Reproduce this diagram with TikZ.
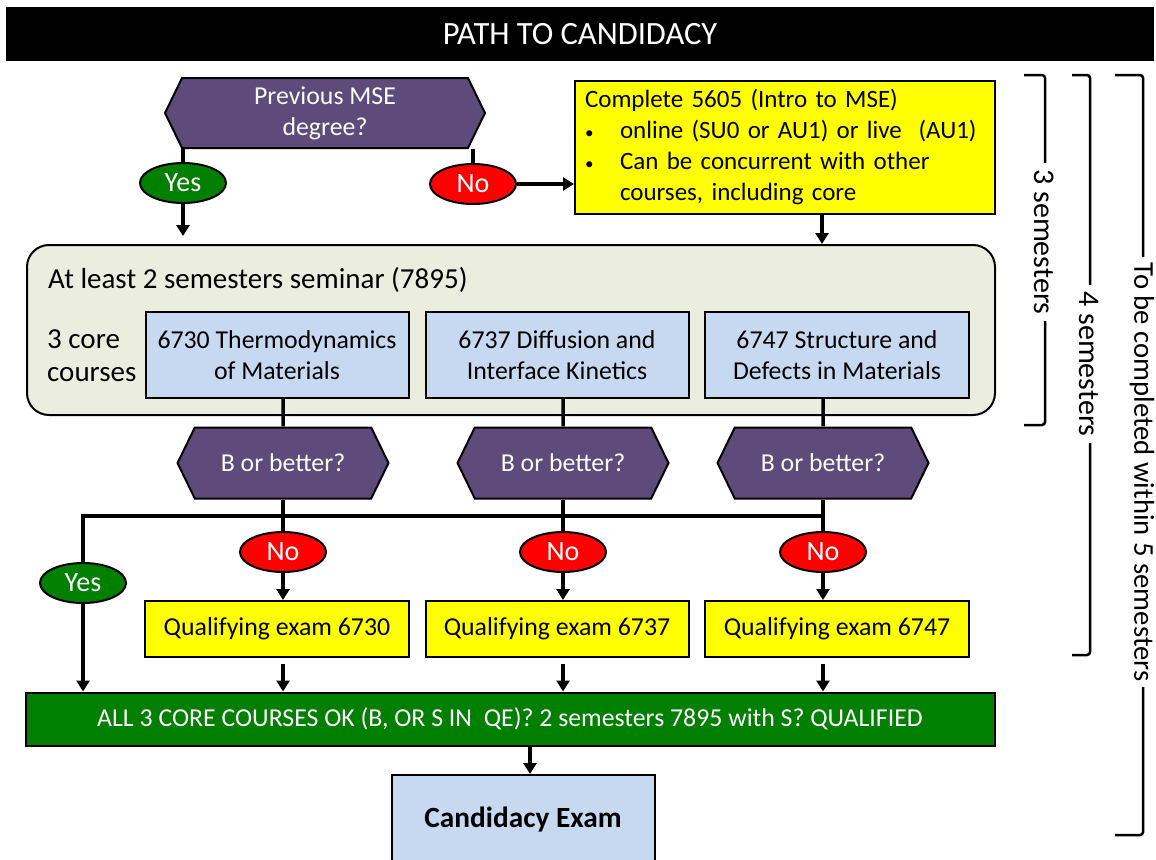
\documentclass[tikz,border=0pt]{standalone}
\usepackage{fontspec}
\setmainfont{Carlito}
\usetikzlibrary{positioning}
\usetikzlibrary{shapes.symbols}
\usetikzlibrary{shapes.geometric}
\usetikzlibrary{arrows.meta}

\definecolor{askpurple}{HTML}{5F4B7B}
\definecolor{okgreen}{HTML}{007F00}
\definecolor{noreddish}{HTML}{FF0000}
\definecolor{qyellow}{HTML}{FFFF00}
\definecolor{coreblue}{HTML}{C6D9F1}
\definecolor{seminarbg}{HTML}{EBEEDE}

\newcommand{\smallbullet}{{\fontsize{17}{17}\selectfont\textbullet}}

\begin{document}
\begin{tikzpicture}[x=1pt,y=-1pt,
      txt/.style={font=\fontsize{25.8}{31}\selectfont},
      bigtxt/.style={font=\fontsize{29}{33}\selectfont},
      box/.style={txt,draw,line width=2pt,rectangle,inner sep=0pt},
      question/.style={txt,draw,line width=2pt,signal,signal to=west and east,
        signal pointer angle=128,fill=askpurple,text=white,inner sep=0pt,align=center},
      yesno/.style={font=\fontsize{28}{31}\selectfont,draw,line width=2pt,ellipse,text=white,
        inner sep=0pt,minimum width=86pt,minimum height=40pt},
      yes/.style={yesno,fill=okgreen},
      no/.style={yesno,fill=noreddish},
      conn/.style={line width=3.5pt},
      arr/.style={conn,-{Triangle[width=13pt,length=11pt]}},
      brk/.style={line width=2.5pt,rounded corners=3pt},
      brklabel/.style={font=\fontsize{30}{33}\selectfont,rotate=-90,fill=white,inner sep=6pt},
    ]
    \useasboundingbox (0,0) rectangle (1156,859);

    % header
    \node[box,fill=black,draw=black,text=white,font=\fontsize{32.5}{36}\selectfont,
      minimum width=1146pt,minimum height=52pt] (title) at (580,34) {PATH TO CANDIDACY};

    % entry question
    \node[question,minimum width=320pt,minimum height=70pt] (prev) at (325,113)
      {Previous MSE\\degree?};
    \node[yes] (yes0) at (183,183) {Yes};
    \node[no] (no0) at (473,184) {No};
    \node[box,fill=qyellow,anchor=north west,text width=400pt,inner xsep=10pt,
      minimum height=133pt,align=left,font=\fontsize{25}{31}\selectfont] (intro) at (574,80)
      {\mbox{Complete 5605 (Intro to MSE)}\\
       \mbox{\makebox[35pt][l]{\smallbullet}online (SU0 or AU1) or live\ \ (AU1)}\\
       \mbox{\makebox[35pt][l]{\smallbullet}Can be concurrent with other}\\
       \mbox{\hspace*{35pt}courses, including core}};

    % seminar and core courses
    \node[draw,line width=2pt,rounded corners=22pt,fill=seminarbg,
      minimum width=968pt,minimum height=170pt] (seminar) at (511,330) {};
    \node[bigtxt,anchor=west,inner sep=0pt] (seminartxt) at (48,280)
      {At least 2 semesters seminar (7895)};
    \node[bigtxt,anchor=west,align=left,inner sep=0pt] (coretxt) at (47,356)
      {3 core\\courses};
    \node[box,fill=coreblue,minimum width=263pt,minimum height=86pt,align=center]
      (core1) at (277,355) {6730 Thermodynamics\\of Materials};
    \node[box,fill=coreblue,minimum width=263pt,minimum height=86pt,align=center]
      (core2) at (557,355) {6737 Diffusion and\\Interface Kinetics};
    \node[box,fill=coreblue,minimum width=264pt,minimum height=86pt,align=center]
      (core3) at (837,355) {6747 Structure and\\Defects in Materials};

    % grade checks
    \node[question,minimum width=211pt,minimum height=71pt] (grade1) at (283,463) {B or better?};
    \node[question,minimum width=211pt,minimum height=71pt] (grade2) at (563,463) {B or better?};
    \node[question,minimum width=211pt,minimum height=71pt] (grade3) at (823,463) {B or better?};
    \coordinate (split) at (83,516);
    \node[yes] (yes1) at (83,583) {Yes};
    \node[no] (no1) at (283,552) {No};
    \node[no] (no2) at (563,552) {No};
    \node[no] (no3) at (823,552) {No};
    \node[box,fill=qyellow,minimum width=264pt,minimum height=56pt] (qe1) at (277,629) {Qualifying exam 6730};
    \node[box,fill=qyellow,minimum width=263pt,minimum height=56pt] (qe2) at (557,629) {Qualifying exam 6737};
    \node[box,fill=qyellow,minimum width=264pt,minimum height=56pt] (qe3) at (837,629) {Qualifying exam 6747};

    % outcome
    \node[box,fill=okgreen,text=white,minimum width=969pt,minimum height=53pt] (qualified) at (510,719)
      {ALL 3 CORE COURSES OK (B, OR S IN\ \ QE)? 2 semesters 7895 with S? QUALIFIED};
    \node[box,fill=coreblue,minimum width=263pt,minimum height=90pt,font=\fontsize{29.3}{33}\selectfont\bfseries]
      (cand) at (523,820) {Candidacy Exam};

    % connectors
    \draw[conn] (prev.south -| yes0) -- (yes0);
    \draw[arr,shorten >=8pt] (yes0) -- (yes0 |- seminar.north);
    \draw[conn] (prev.south -| no0) -- (no0);
    \draw[arr] (no0) -- (intro.west |- no0);
    \draw[arr] (intro.south -| 822,0) -- (seminar.north -| 822,0);
    \foreach \i in {1,2,3}{
      \draw[conn] (core\i.south -| grade\i) -- (grade\i);
      \draw[conn] (grade\i) -- (no\i);
      \draw[arr] (no\i) -- (qe\i.north -| no\i);
      \draw[arr,shorten <=6pt] (qe\i.south -| no\i) -- (qualified.north -| no\i);
    }
    \draw[conn] (grade3.south |- split) -- (split) -- (yes1);
    \draw[arr] (yes1) -- (qualified.north -| yes1);
    \draw[arr] (qualified.south -| 530,0) -- (cand.north -| 530,0);

    % semester brackets
    \draw[brk] (1024,75) -- (1045,75) -- (1045,425) -- (1024,425);
    \node[brklabel] (sem3) at (1044,242) {3 semesters};
    \draw[brk] (1072,75) -- (1090,75) -- (1090,655) -- (1072,655);
    \node[brklabel] (sem4) at (1089,364) {4 semesters};
    \draw[brk] (1115,75) -- (1143,75) -- (1143,835) -- (1115,835);
    \node[brklabel,font=\fontsize{28.7}{33}\selectfont] (sem5) at (1142,472) {To be completed within 5 semesters};
\end{tikzpicture}
\end{document}
